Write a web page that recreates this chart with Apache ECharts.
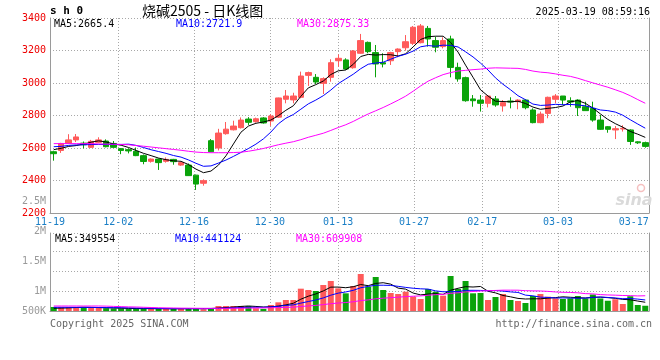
<!DOCTYPE html>
<html><head><meta charset="utf-8">
<script src="https://cdn.jsdelivr.net/npm/echarts@6/dist/echarts.min.js"></script>
<style>html,body{margin:0;padding:0;background:#fff}#c{width:660px;height:360px}</style>
</head><body><div id="c"></div>
<script>
const dates = ['11-19','11-20','11-21','11-22','11-25','11-26','11-27','11-28','11-29',
'12-02','12-03','12-04','12-05','12-06','12-09','12-10','12-11','12-12','12-13',
'12-16','12-17','12-18','12-19','12-20','12-23','12-24','12-25','12-26','12-27','12-30','12-31',
'01-02','01-03','01-06','01-07','01-08','01-09','01-10','01-13','01-14','01-15','01-16','01-17',
'01-20','01-21','01-22','01-23','01-24','01-27',
'02-05','02-06','02-07','02-10','02-11','02-12','02-13','02-14','02-17','02-18','02-19','02-20','02-21',
'02-24','02-25','02-26','02-27','02-28',
'03-03','03-04','03-05','03-06','03-07','03-10','03-11','03-12','03-13','03-14','03-17','03-18','03-19'];

const open = [2577,2585,2628,2650,2630,2604,2635,2643,2628,2596,
2590,2580,2553,2518,2532,2518,2530,2495,2495,2433,
2383,2645,2600,2688,2712,2725,2778,2762,2785,2766,
2790,2900,2896,2912,3047,3035,2998,3035,3137,3142,
3094,3183,3250,3187,3125,3137,3193,3217,3244,3248,
3336,3261,3224,3271,3096,3033,2902,2895,2875,2902,
2859,2889,2885,2895,2834,2756,2813,2900,2920,2891,
2895,2854,2844,2772,2731,2711,2717,2711,2638,2633];
const high = [2583,2632,2685,2686,2640,2650,2666,2653,2643,2600,
2598,2603,2560,2536,2535,2542,2533,2515,2505,2436,
2407,2655,2718,2760,2768,2788,2790,2787,2790,2808,
2910,2957,2940,3070,3070,3055,3035,3146,3176,3152,
3203,3302,3255,3234,3183,3192,3213,3295,3351,3363,
3351,3285,3281,3291,3125,3039,2926,2926,2920,2920,
2895,2912,2900,2900,2844,2824,2916,2932,2920,2912,
2900,2885,2885,2803,2735,2735,2740,2715,2641,2639];
const low = [2522,2570,2626,2637,2598,2600,2630,2604,2600,2562,
2567,2550,2500,2510,2465,2510,2497,2490,2428,2342,
2368,2575,2585,2682,2708,2720,2742,2756,2750,2736,
2785,2875,2875,2906,2982,2994,2932,3008,3100,3080,
3088,3180,3183,3035,3096,3111,3158,3199,3234,3244,
3224,3189,3213,3035,3008,2885,2854,2824,2850,2854,
2824,2844,2838,2838,2752,2752,2783,2875,2865,2854,
2797,2830,2762,2711,2694,2655,2701,2619,2625,2602];
const close = [2565,2628,2650,2668,2620,2641,2650,2608,2604,2585,
2582,2553,2517,2532,2510,2530,2516,2510,2430,2378,
2399,2577,2692,2716,2735,2772,2758,2780,2754,2797,
2908,2920,2920,3043,3064,3006,3027,3125,3152,3086,
3197,3261,3193,3117,3117,3187,3209,3254,3343,3351,
3271,3220,3261,3096,3025,2891,2891,2875,2920,2865,
2879,2883,2895,2848,2756,2809,2912,2920,2895,2883,
2848,2830,2772,2715,2715,2719,2721,2640,2632,2610];

const ma5 = [2590,2598,2610,2615,2624,2636,2644,2637,2625,2617,
2603,2585,2567,2553,2538,2528,2521,2518,2498,2470,
2448,2458,2495,2552,2625,2697,2735,2752,2760,2772,
2799,2832,2860,2918,2970,2990,3012,3052,3075,3080,
3115,3163,3176,3172,3175,3174,3166,3180,3222,3268,
3285,3288,3288,3250,3190,3110,3035,2958,2920,2888,
2886,2884,2888,2874,2852,2838,2844,2849,2858,2884,
2892,2875,2846,2810,2776,2750,2728,2702,2685,2665.4];
const ma10 = [2608,2610,2616,2619,2620,2621,2622,2622,2622,2621.9,
2623.6,2616.1,2602.8,2589.2,2578.2,2567.1,2553.7,2543.9,2526.5,2505.8,
2487.5,2489.9,2507.4,2525.8,2548.3,2572.5,2596.7,2623.7,2656.1,2698.0,
2748.9,2783.2,2806.0,2838.7,2871.6,2895.0,2921.9,2956.4,2996.2,3025.1,
3054.0,3088.1,3115.4,3122.8,3128.1,3146.2,3164.4,3177.3,3196.4,3222.9,
3230.3,3226.2,3233.0,3230.9,3221.7,3192.1,3160.3,3122.4,3080.1,3031.5,
2992.3,2958.6,2922.0,2897.2,2870.3,2862.1,2864.2,2868.7,2866.2,2868.0,
2864.9,2859.6,2847.3,2834.0,2829.9,2820.9,2801.8,2773.8,2747.5,2721.9];
const ma30 = [2627,2627,2627,2627,2627,2627,2625,2624,2623,2622,
2620,2615,2611,2606,2601,2596,2591,2586,2580,2575,
2572,2571,2571,2571,2572,2574,2580,2588,2597,2608.6,
2620.0,2629.7,2638.7,2651.2,2666.0,2678.2,2690.8,2708.0,2726.3,2743.0,
2763.5,2787.1,2809.6,2829.1,2849.3,2871.2,2894.3,2919.1,2949.6,2982.0,
3011.1,3032.5,3051.5,3064.1,3073.8,3077.8,3082.2,3085.4,3090.9,3093.2,
3092.2,3091.0,3090.1,3083.6,3073.4,3066.8,3063.0,3056.1,3047.6,3040.8,
3029.2,3014.8,3000.8,2987.4,2974.0,2958.4,2942.1,2921.6,2897.9,2875.33];

const volume = [160000,160000,160000,130000,150000,130000,120000,110000,100000,100000,
90000,90000,100000,85000,95000,80000,85000,110000,95000,110000,
70000,115000,200000,200000,200000,200000,200000,110000,85000,240000,
347000,440000,440000,893000,840000,800000,1040000,1200000,907000,707000,
1000000,1480000,973000,1360000,840000,720000,680000,773000,573000,480000,
880000,773000,613000,1400000,880000,1200000,707000,720000,440000,560000,
680000,440000,400000,320000,600000,680000,573000,507000,480000,507000,
600000,500000,660000,500000,410000,470000,280000,590000,240000,210000];
const volMa5 = [110000,115000,125000,140000,152000,146000,138000,128000,122000,112000,
104000,98000,96000,93000,92000,90000,89000,91000,93000,96000,
94000,100000,118000,139000,157000,183000,200000,182000,159000,167000,
196000,244000,310000,472000,592000,683000,803000,955000,957000,931000,
971000,1059000,1013000,1104000,1131000,1075000,915000,875000,717000,645000,
677000,696000,664000,829000,909000,973000,960000,981000,789000,725000,
621000,568000,504000,480000,488000,488000,515000,536000,568000,549000,
533000,519000,549000,553000,534000,508000,464000,450000,398000,349554];
const volMa10 = [150000,150000,148000,146000,145000,143000,140000,136000,132000,132000,
125000,118000,112000,107500,102000,97000,93500,93500,93000,94000,
92000,94500,104500,116000,126500,138500,150000,150000,149000,162000,
189700,222200,246200,315500,379500,439500,523500,632500,714700,761400,
826700,930700,984000,1030700,1030700,1022700,986700,944000,910600,887900,
875900,805200,769200,773200,777200,825200,827900,822600,809300,817300,
797300,764000,742700,634700,606700,554700,541300,520000,524000,518700,
510700,516700,542700,560700,541700,520700,491400,499700,475700,441124];
const volMa30 = [200000,200000,200000,200000,200000,200000,200000,195000,185000,175000,
165000,160000,150000,140000,130000,125000,120000,115000,112000,110000,
108000,107000,107000,108000,110000,113000,117000,120000,124000,129300,
135600,144900,154200,179700,202700,225000,255700,292000,318900,339100,
369500,415800,444900,487400,512200,533600,553400,575500,591400,603800,
630800,652700,666500,706500,729100,762500,779400,799700,811500,822200,
833300,833300,832000,812900,804900,800900,785300,762200,748000,741300,
728000,695300,684900,656200,641900,633500,620200,614100,603000,609908];

const dateLabelIdx = [0,9,19,29,38,48,57,67,77];
const dateGridIdx = [9,19,29,38,48,57,67];
const volTickLabels = ['500K','1M','1.5M','2M','2.5M'];
const volTickSlots = [0,2,5,8,11];

const UP = '#ff5a5a', DOWN = '#0aa30a';
const MONO = '"DejaVu Sans Mono", "Liberation Mono", monospace';
const GRIDC = '#a8a8a8', FRAMEC = '#9a9a9a';
const dotted = {type:[1,2], color:GRIDC, width:1};

const volCats = [];
for (let k = 0; k <= 11; k++) volCats.push('');
volTickSlots.forEach((s, j) => { volCats[s] = volTickLabels[j]; });

const chart = echarts.init(document.getElementById('c'), null, {renderer:'canvas'});

function txt(text, x, y, fill, font, align) {
  return {type:'text', x:x, y:y, silent:true, z:100,
    style:{text:text, fill:fill, font:font || ('10px ' + MONO),
      align: align || 'left', textAlign: align || 'left',
      verticalAlign:'middle', textVerticalAlign:'middle'}};
}
const last = a => a[a.length - 1];

const option = {
  animation:false,
  backgroundColor:'#fff',
  textStyle:{fontFamily:MONO},
  grid:[
    {left:50, right:11, top:18, height:195},
    {left:50, right:11, top:233, height:78},
    {left:50, width:10, top:201, height:110}
  ],
  xAxis:[
    {gridIndex:0, type:'category', data:dates, boundaryGap:true, show:false},
    {gridIndex:0, type:'category', data:dates, boundaryGap:false, position:'bottom',
      axisLine:{show:true, onZero:false, lineStyle:{color:FRAMEC, width:1}},
      axisTick:{show:false},
      axisLabel:{interval:(i)=>dateLabelIdx.indexOf(i) >= 0, color:'#1a7fc6', fontSize:10, fontFamily:MONO, margin:4},
      splitLine:{show:true, interval:(i)=>dateGridIdx.indexOf(i) >= 0, lineStyle:dotted}},
    {gridIndex:1, type:'category', data:dates, boundaryGap:true, show:false},
    {gridIndex:1, type:'category', data:dates, boundaryGap:false, position:'bottom',
      axisLine:{show:true, onZero:false, lineStyle:{color:FRAMEC, width:1}},
      axisTick:{show:false}, axisLabel:{show:false},
      splitLine:{show:true, interval:(i)=>dateGridIdx.indexOf(i) >= 0, lineStyle:dotted}},
    {gridIndex:2, type:'value', show:false}
  ],
  yAxis:[
    {gridIndex:0, type:'value', min:2200, max:3400, interval:200, position:'left',
      axisLine:{show:true, onZero:false, lineStyle:{color:FRAMEC, width:1}},
      axisTick:{show:false},
      axisLabel:{color:'#ee0000', fontSize:10, fontFamily:MONO, margin:4, formatter:(v)=>String(v)},
      splitLine:{show:true, lineStyle:dotted}},
    {gridIndex:0, type:'value', min:0, max:1, position:'right',
      axisLine:{show:true, onZero:false, lineStyle:{color:FRAMEC, width:1}},
      axisTick:{show:false}, axisLabel:{show:false}, splitLine:{show:false}},
    {gridIndex:1, type:'value', min:0, max:3120000, position:'left', show:false},
    {gridIndex:1, type:'value', min:-4.7, max:73.3, interval:20, position:'left',
      axisLine:{show:true, onZero:false, lineStyle:{color:FRAMEC, width:1}},
      axisTick:{show:false}, axisLabel:{show:false},
      splitLine:{show:true, lineStyle:dotted}},
    {gridIndex:1, type:'value', min:0, max:1, position:'right',
      axisLine:{show:true, onZero:false, lineStyle:{color:FRAMEC, width:1}},
      axisTick:{show:false}, axisLabel:{show:false}, splitLine:{show:false}},
    {gridIndex:2, type:'category', data:volCats, boundaryGap:false, position:'left',
      axisLine:{show:false}, axisTick:{show:false},
      axisLabel:{interval:0, color:'#9a9a9a', fontSize:10, fontFamily:MONO, margin:4},
      splitLine:{show:false}}
  ],
  series:[
    {type:'candlestick', xAxisIndex:0, yAxisIndex:0, barWidth:6,
      data: dates.map((d,i)=>[open[i], close[i], low[i], high[i]]),
      itemStyle:{color:UP, color0:DOWN, borderColor:UP, borderColor0:DOWN, borderWidth:1}},
    {type:'line', xAxisIndex:0, yAxisIndex:0, data:ma5, symbol:'none', lineStyle:{color:'#000', width:1}},
    {type:'line', xAxisIndex:0, yAxisIndex:0, data:ma10, symbol:'none', lineStyle:{color:'#0000ff', width:1}},
    {type:'line', xAxisIndex:0, yAxisIndex:0, data:ma30, symbol:'none', lineStyle:{color:'#ff00ff', width:1}},
    {type:'bar', xAxisIndex:2, yAxisIndex:2, barWidth:6,
      data: volume.map((v,i)=>({value:v, itemStyle:{color: close[i] >= open[i] ? UP : DOWN}}))},
    {type:'line', xAxisIndex:2, yAxisIndex:2, data:volMa5, symbol:'none', lineStyle:{color:'#000', width:1}},
    {type:'line', xAxisIndex:2, yAxisIndex:2, data:volMa10, symbol:'none', lineStyle:{color:'#0000ff', width:1}},
    {type:'line', xAxisIndex:2, yAxisIndex:2, data:volMa30, symbol:'none', lineStyle:{color:'#ff00ff', width:1}}
  ],
  graphic:[
    txt('s h 0', 50, 11, '#000', 'bold 11px ' + MONO),
    txt('烧碱2505 - 日K线图', 142, 10.5, '#000', '14px "Noto Sans CJK SC"'),
    txt('2025-03-19 08:59:16', 650, 12, '#000', '10px ' + MONO, 'right'),
    txt('MA5:' + last(ma5), 54, 24, '#000'),
    txt('MA10:' + last(ma10), 176, 24, '#0000ff'),
    txt('MA30:' + last(ma30), 297, 24, '#ff00ff'),
    txt('MA5:' + last(volMa5), 55, 239, '#000'),
    txt('MA10:' + last(volMa10), 175, 239, '#0000ff'),
    txt('MA30:' + last(volMa30), 296, 239, '#ff00ff'),
    txt('Copyright 2025 SINA.COM', 50, 324, '#666'),
    txt('http://finance.sina.com.cn', 652, 324, '#666', '10px ' + MONO, 'right'),
    txt('sina', 634, 201, '#dadada', 'italic bold 16px "DejaVu Sans"', 'center'),
    {type:'circle', silent:true, z:100, shape:{cx:641, cy:188, r:3.5}, style:{fill:'none', stroke:'#f5c0c0', lineWidth:1.5}}
  ]
};
chart.setOption(option);
</script>
</body></html>
